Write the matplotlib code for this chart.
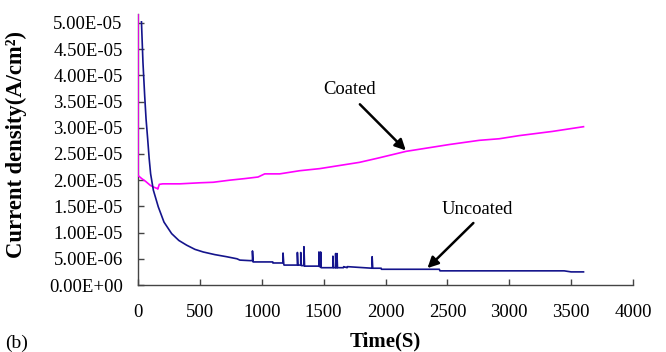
import matplotlib
matplotlib.use("Agg")
import matplotlib.pyplot as plt
from matplotlib.ticker import FuncFormatter, MultipleLocator

plt.rcParams['font.family'] = ['Liberation Serif', 'DejaVu Serif']

# Uncoated current density (A/cm^2), time in s
unc_t = [28, 40, 54, 65, 78, 90, 102, 124, 164, 210, 272, 330, 393, 460, 527, 620, 715, 800, 823, 903,
         925, 925, 930, 1089, 1090, 1172, 1172, 1178, 1180, 1288, 1288, 1292, 1315, 1315, 1320,
         1341, 1341, 1346, 1360, 1462, 1462, 1466, 1476, 1476, 1480, 1575, 1575, 1580, 1597, 1597,
         1600, 1608, 1608, 1612, 1660, 1662, 1690, 1692, 1892, 1892, 1897, 1965, 1967, 2435, 2440,
         3444, 3500, 3600]
unc_v = [5.02, 4.25, 3.61, 3.17, 2.79, 2.42, 2.12, 1.81, 1.49, 1.20, 0.98, 0.85, 0.76, 0.68, 0.63, 0.58, 0.54, 0.50, 0.475, 0.465,
         0.465, 0.65, 0.44, 0.44, 0.42, 0.42, 0.61, 0.40, 0.38, 0.38, 0.62, 0.38, 0.38, 0.62, 0.37,
         0.37, 0.73, 0.36, 0.36, 0.36, 0.63, 0.35, 0.35, 0.63, 0.33, 0.33, 0.55, 0.33, 0.33, 0.60,
         0.33, 0.33, 0.60, 0.33, 0.33, 0.35, 0.33, 0.35, 0.32, 0.54, 0.32, 0.32, 0.30, 0.30, 0.27,
         0.27, 0.25, 0.25]

# Coated current density
coat_t = [0, 0, 30, 60, 100, 124, 156, 160, 172, 200, 339, 500, 608, 742, 863, 970, 1024, 1145, 1306,
          1468, 1629, 1790, 1938, 2167, 2409, 2516, 2758, 2919, 3081, 3349, 3600]
coat_v = [5.25, 2.09, 2.03, 1.98, 1.90, 1.87, 1.84, 1.83, 1.92, 1.93, 1.93, 1.95, 1.96, 2.00, 2.03, 2.06, 2.12, 2.12, 2.18,
          2.22, 2.28, 2.34, 2.42, 2.55, 2.64, 2.68, 2.76, 2.79, 2.85, 2.93, 3.02]

scale = 1e-5
unc_v = [v * scale for v in unc_v]
coat_v = [v * scale for v in coat_v]

fig = plt.figure(figsize=(6.66, 3.52), dpi=100)
ax = fig.add_axes([138/666, 1-285/352, (633-138)/666, (285-14)/352])

ax.plot(coat_t, coat_v, color='#ff00ff', lw=1.2, zorder=3)
ax.plot(unc_t, unc_v, color='#14148c', lw=1.2, zorder=3)

ax.set_xlim(0, 4000)
ax.set_ylim(0, 5.17e-5)
ax.xaxis.set_major_locator(MultipleLocator(500))
ax.yaxis.set_major_locator(MultipleLocator(0.5e-5))
ax.yaxis.set_major_formatter(FuncFormatter(lambda v, p: f"{v:.2E}"))

for s in ['top', 'right']:
    ax.spines[s].set_visible(False)
for s in ['left', 'bottom']:
    ax.spines[s].set_color('#444444')
    ax.spines[s].set_linewidth(1.0)

ax.tick_params(axis='both', direction='in', length=4, width=1.0, color='#444444',
               labelcolor='black')
ax.tick_params(axis='y', pad=11, labelsize=13.5)
ax.tick_params(axis='x', pad=14, labelsize=13.5)

ax.set_ylabel('Current density(A/cm²)', fontsize=16.3, fontweight='bold')
ax.yaxis.set_label_coords(-0.224, 0.52)
ax.set_xlabel('Time(S)', fontsize=15, fontweight='bold')
ax.xaxis.set_label_coords(0.50, -0.172)

fig.text(5/666, 1-343/352, '(b)', fontsize=14, ha='left', va='center')

ax.text(1710, 3.73e-5, 'Coated', fontsize=13.4, ha='center', va='center')
ax.annotate('', xy=(2180, 2.53e-5), xytext=(1777, 3.485e-5),
            arrowprops=dict(arrowstyle='-|>', color='black', lw=1.8, mutation_scale=16))
ax.text(2738, 1.44e-5, 'Uncoated', fontsize=13.4, ha='center', va='center')
ax.annotate('', xy=(2323, 0.285e-5), xytext=(2726, 1.22e-5),
            arrowprops=dict(arrowstyle='-|>', color='black', lw=1.8, mutation_scale=16))

fig.savefig('out.png', dpi=100)
